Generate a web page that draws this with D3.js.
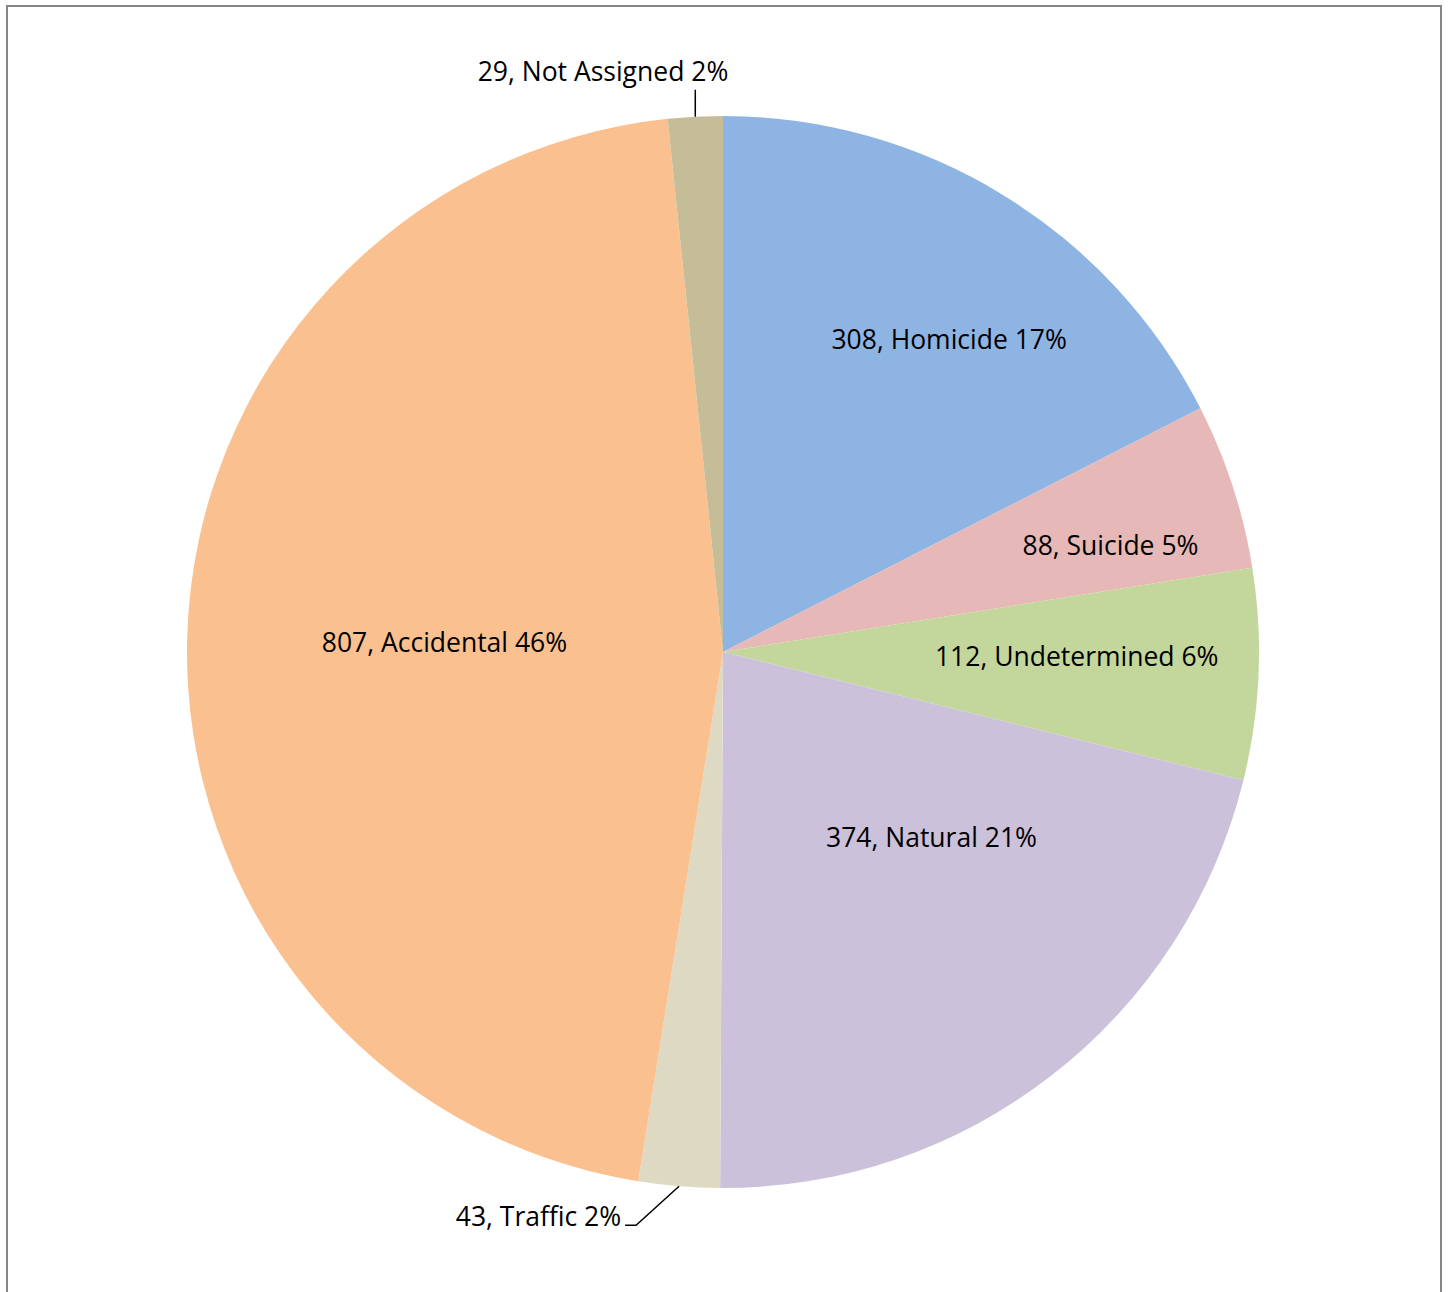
<!DOCTYPE html>
<html>
<head>
<meta charset="utf-8">
<script src="https://cdn.jsdelivr.net/npm/d3@7"></script>
<style>
  html, body { margin: 0; padding: 0; background: #fff; }
  svg { display: block; }
  text { font-family: "Open Sans", "Noto Sans", sans-serif; fill: #000; }
</style>
</head>
<body>
<svg></svg>
<script>
// data
var categories = ['Homicide', 'Suicide', 'Undetermined', 'Natural', 'Traffic', 'Accidental', 'Not Assigned'];
var counts = [308, 88, 112, 374, 43, 807, 29];
var colors = ['#8EB4E3', '#E6B9B8', '#C3D69B', '#CCC1DA', '#DDD9C3', '#FAC090', '#C4BD97'];

// label layout: [radius fraction, angle shift in degrees], null = outside with leader
var labelSpots = [[0.72, 4.4], [0.75, 2.6], [0.66, -1.8], [0.52, -10.5], null, [0.52, 0.5], null];

const W = 1448, H = 1292;
const cx = 723, cy = 652, radius = 536;
const fontSize = '26.5px';

var svg = d3.select('svg').attr('width', W).attr('height', H);

// frame
svg.append('rect')
   .attr('x', 7).attr('y', 6)
   .attr('width', 1434).attr('height', 1300)
   .attr('fill', 'none')
   .attr('stroke', '#868686')
   .attr('stroke-width', 2);

var rows = categories.map((c, i) => ({ name: c, value: counts[i], color: colors[i], spot: labelSpots[i] }));
var total = d3.sum(counts);
var pct = d3.format('.0%');

var pie = d3.pie().value(d => d.value).sort(null);
var arc = d3.arc().innerRadius(0).outerRadius(radius);
var arcs = pie(rows);

var g = svg.append('g').attr('transform', `translate(${cx},${cy})`);

g.selectAll('path')
 .data(arcs)
 .enter()
   .append('path')
   .attr('d', arc)
   .attr('fill', d => d.data.color);

function labelText(d) {
    return d.data.value + ', ' + d.data.name + ' ' + pct(d.data.value / total);
}

function polar(angle, r) {
    return [r * Math.sin(angle), -r * Math.cos(angle)];
}

function spotOf(d) {
    var a = (d.startAngle + d.endAngle) / 2 + d.data.spot[1] * Math.PI / 180;
    return polar(a, radius * d.data.spot[0]);
}

// inside labels
g.selectAll('text.inside')
 .data(arcs.filter(d => d.data.spot))
 .enter()
   .append('text')
   .attr('class', 'inside')
   .attr('x', d => spotOf(d)[0])
   .attr('y', d => spotOf(d)[1])
   .attr('text-anchor', 'middle')
   .attr('dominant-baseline', 'central')
   .style('font-size', fontSize)
   .text(labelText);

// outside labels with leader lines
arcs.filter(d => !d.data.spot).forEach(d => {
    var mid = (d.startAngle + d.endAngle) / 2;
    var p = polar(mid, radius);
    var pts, tx, ty;
    if (p[1] < 0) {
        // top: vertical leader
        pts = [p, [p[0], p[1] - 27]];
        tx = p[0] + 33; ty = p[1] - 46;
    } else {
        // bottom: diagonal then short horizontal
        var knee = [p[0] - 43, p[1] + 39];
        pts = [p, knee, [knee[0] - 11, knee[1]]];
        tx = knee[0] - 15; ty = knee[1] - 9;
    }
    g.append('path')
     .attr('d', d3.line()(pts))
     .attr('fill', 'none')
     .attr('stroke', '#000')
     .attr('stroke-width', 1.5);
    g.append('text')
     .attr('x', tx).attr('y', ty)
     .attr('text-anchor', 'end')
     .attr('dominant-baseline', 'central')
     .style('font-size', fontSize)
     .text(labelText(d));
});
</script>
</body>
</html>
